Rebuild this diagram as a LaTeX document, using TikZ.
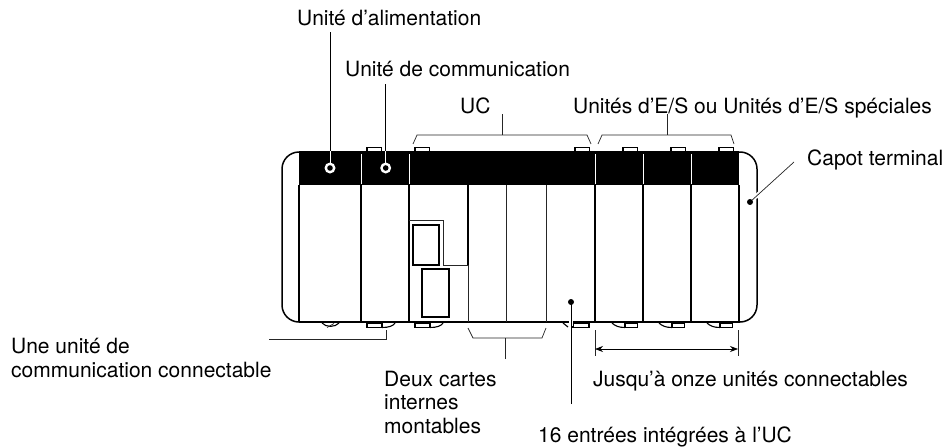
\documentclass[tikz,border=0pt]{standalone}
\usepackage{fontspec}
\setmainfont{TeX Gyre Heros}
\usetikzlibrary{arrows.meta, calc}

\begin{document}
\begin{tikzpicture}[x=1pt, y=-1pt,
  lbl/.style={inner sep=0pt, anchor=base west, align=left, font=\fontsize{21}{23.5}\selectfont},
  thinline/.style={line width=0.7pt, black!85},
  edge/.style={line width=1.5pt},
  wall/.style={line width=1.1pt},
  leader/.style={line width=0.8pt},
  halo/.style={line width=0.8pt, white},
  gap/.style={line width=4.5pt, white},
  dim/.style={line width=0.7pt, {Stealth[length=8pt, width=6pt]}-{Stealth[length=8pt, width=6pt]}}]
  \useasboundingbox (0,0) rectangle (945,447);
  % labels
  \node[lbl] (alim) at (297,25) {Unité d’alimentation};
  \node[lbl] (comm) at (345,76) {Unité de communication};
  \node[lbl] (uc) at (460,113) {UC};
  \node[lbl] (es) at (573,113) {Unités d’E/S ou Unités d’E/S spéciales};
  \node[lbl] (capot) at (807,165) {Capot terminal};
  \node[lbl] (une) at (11,377) {Une unité de\\communication connectable};
  \node[lbl] (deux) at (384,433) {Deux cartes\\internes\\montables};
  \node[lbl] (onze) at (593,386) {Jusqu’à onze unités connectables};
  \node[lbl] (seize) at (538,442) {16 entrées intégrées à l’UC};
  % rack body
  \fill (299,151) rectangle (739,185);
  \draw[edge, rounded corners=17] (299,152) -- (282,152) -- (282,322) -- (299,322);
  \draw[edge, rounded corners=17] (739,152) -- (757,152) -- (757,322) -- (739,322);
  \draw[edge] (299,322) -- (739,322);
  % unit walls, white where they cross the black band
  \foreach \x in {361,409,595,643,691} {
    \draw[halo] (\x,154) -- (\x,184);
  }
  \foreach \x in {299,361,409,595,643,691,739} {
    \draw[wall] (\x,185) -- (\x,322);
  }
  \draw[wall] (468,185) -- (468,265);
  \draw[thinline] (468,265) -- (468,322);
  \draw[thinline] (506,185) -- (506,322);
  \draw[thinline] (546,185) -- (546,322);
  % slots of the CPU
  \draw[thinline] (409,220) -- (443,220) -- (443,265) -- (468,265);
  \draw[wall] (413,225) rectangle (439,265);
  \draw[wall] (422,269) rectangle (449,317);
  % top tabs
  \foreach \x in {367,415,575,623,671,719} {
    \draw[wall] (\x,151) -- (\x,147.5) -- ++(14.5,0) -- ++(0,3.5);
  }
  % bottom feet
  \foreach \x in {367,415} {
    \draw[wall] (\x,323) rectangle ++(15,4.5);
    \draw[wall] (\x+15,327.5) .. controls (\x+22,327.5) and (\x+26,326) .. (\x+28,323);
  }
  \foreach \x in {625,672,720} {
    \draw[wall] (\x,323) rectangle ++(12.5,4.5);
    \draw[wall] (\x,327.5) .. controls (\x-6,327.5) and (\x-10,326) .. (\x-13,323);
  }
  \draw[wall] (573,323) rectangle (589,327.5);
  \draw[wall] (563,323) -- (568,327);
  \draw[wall] (322,323) .. controls (326,327.5) and (335,327.5) .. (339,323);
  \draw[thinline] (327,327.5) -- (334,323.5);
  % named ends of the connectors
  \coordinate (alimTop) at (330,32);
  \coordinate (alimBand) at (330,151);
  \coordinate (alimDot) at (330,168);
  \coordinate (commTop) at (385.7,84);
  \coordinate (commBand) at (385.7,151);
  \coordinate (commDot) at (385.7,168);
  \coordinate (capotTop) at (794,162);
  \coordinate (capotDot) at (750,202);
  \coordinate (ucStem) at (502,114);
  \coordinate (ucFoot) at (502,135);
  \coordinate (esStem) at (667,114);
  \coordinate (esFoot) at (667,135);
  \coordinate (uneEnd) at (269,339);
  \coordinate (uneFoot) at (386,330);
  \coordinate (deuxStem) at (505,359);
  \coordinate (deuxFoot) at (505,338);
  \coordinate (seizeEnd) at (571,404);
  \coordinate (seizeDot) at (571,302);
  \coordinate (dimL) at (595,349);
  \coordinate (dimR) at (738,349);
  % leaders from the labels
  \draw[leader] (alimTop) -- (alimBand);
  \draw[halo] (alimBand) -- (alimDot);
  \draw[leader] (commTop) -- (commBand);
  \draw[halo] (commBand) -- (commDot);
  \foreach \p in {alimDot,commDot} {
    \fill[white] (\p) circle (5.5);
    \fill (\p) circle (2.8);
  }
  \draw[gap] ($(capotDot)!0.12!(capotTop)$) -- ($(capotDot)!0.42!(capotTop)$);
  \draw[thinline] (capotTop) -- (capotDot);
  \fill (capotDot) circle (3);
  \draw[gap] (571,319) -- (571,326);
  \draw[leader] (seizeEnd) -- (seizeDot);
  \fill (seizeDot) circle (3);
  % brackets
  \draw[thinline] (413,144) -- (417,135) -- (587,135) -- (591,144);
  \draw[thinline] (ucStem) -- (ucFoot);
  \draw[thinline] (598,144) -- (602,135) -- (731,135) -- (734,144);
  \draw[thinline] (esStem) -- (esFoot);
  \draw[thinline] (468,328) -- (473,338) -- (542,338) -- (546,328);
  \draw[thinline] (deuxStem) -- (deuxFoot);
  \draw[thinline] (uneEnd) -- (uneFoot |- uneEnd) -- (uneFoot);
  % span of the units
  \draw[thinline] (595,330) -- (595,356);
  \draw[thinline] (738,330) -- (738,356);
  \draw[dim] (dimL) -- (dimR);
\end{tikzpicture}
\end{document}
